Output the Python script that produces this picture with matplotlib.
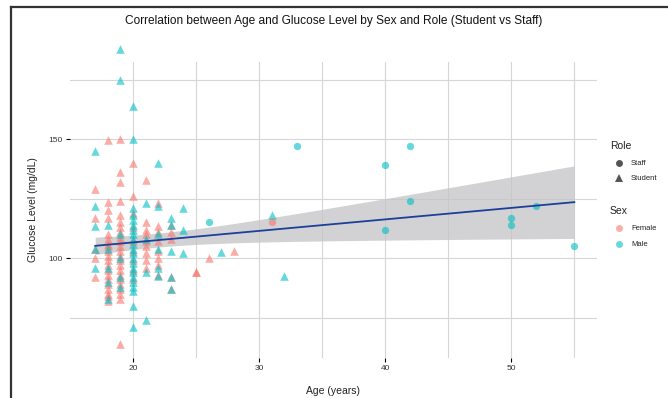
import numpy as np
import matplotlib.pyplot as plt
from matplotlib.lines import Line2D

plt.rcParams['font.family'] = ['Liberation Sans', 'DejaVu Sans']

# Student, female (age, glucose)
stu_f_age = [17]*5 + [18]*20 + [19]*23 + [20]*9 + [21]*9 + [22]*8 + [23]*5 + [25, 25, 26, 28]
stu_f_glu = [129, 117, 104, 100, 92,
             149.6, 123.5, 120, 117, 110, 108, 106, 105, 103, 101, 99, 97, 95, 93, 91, 89, 87, 85, 84, 82,
             150, 136, 132, 124, 118, 115, 113, 111, 109, 107, 105, 103, 101, 99, 97, 95, 93, 91, 89, 87, 85, 83, 64,
             140, 126, 119, 113, 107, 103, 99, 95, 91,
             133, 115, 112, 110, 107, 105, 102, 99, 96,
             123, 113.5, 111, 107, 103, 100, 97, 93,
             114, 111, 108, 92, 87,
             94, 94, 100, 103]

# Student, male
stu_m_age = [17]*5 + [18]*5 + [19]*6 + [20]*22 + [21]*4 + [22]*6 + [23]*5 + [24]*3 + [27, 31, 32]
stu_m_glu = [145, 122, 113.5, 104, 96,
             114, 104, 96, 90, 83,
             188, 175, 110, 100, 92, 88,
             164, 150, 121, 118, 116, 114, 112, 110, 108, 106, 104, 102, 100, 98, 96, 94, 92, 90, 88, 86, 80, 71,
             123, 108, 94, 74,
             140, 122, 110, 104, 96, 92.5,
             117, 114, 103, 92, 87,
             121, 112, 102,
             102.5, 118, 92.4]

# Staff
staff_m_age = [26, 33, 40, 40, 42, 42, 50, 50, 52, 55]
staff_m_glu = [115, 147, 139, 112, 147, 124, 117, 114, 122, 105]
staff_f_age = [31]
staff_f_glu = [115]

col_f = '#F8766D'
col_m = '#00BFC4'
alpha = 0.6

fig = plt.figure(figsize=(6.68, 3.98), dpi=100)
ax = fig.add_axes([70/668, 1-358/398, 527/668, 296/398])

# grid
for x in [20, 25, 30, 35, 40, 45, 50, 55]:
    ax.axvline(x, color='#d6d6d6', lw=0.8, zorder=0)
for y in [75, 100, 125, 150, 175]:
    ax.axhline(y, color='#d6d6d6', lw=0.8, zorder=0)

# regression with confidence band
all_age = np.array(stu_f_age + stu_m_age + staff_m_age + staff_f_age, dtype=float)
all_glu = np.array(stu_f_glu + stu_m_glu + staff_m_glu + staff_f_glu, dtype=float)
b, a = np.polyfit(all_age, all_glu, 1)
n = len(all_age)
resid = all_glu - (a + b*all_age)
s = np.sqrt(np.sum(resid**2) / (n-2))
xs = np.linspace(all_age.min(), all_age.max(), 100)
ys = a + b*xs
se = s * np.sqrt(1/n + (xs - all_age.mean())**2 / np.sum((all_age - all_age.mean())**2))
ax.fill_between(xs, ys - 1.97*se, ys + 1.97*se, color='#c4c4c6', alpha=0.75, lw=0, zorder=1)

ax.scatter(stu_f_age, stu_f_glu, marker='^', s=38, color=col_f, alpha=alpha, lw=0, zorder=2, clip_on=False)
ax.scatter(stu_m_age, stu_m_glu, marker='^', s=38, color=col_m, alpha=alpha, lw=0, zorder=2, clip_on=False)
ax.scatter(staff_f_age, staff_f_glu, marker='o', s=28, color=col_f, alpha=alpha, lw=0, zorder=2)
ax.scatter(staff_m_age, staff_m_glu, marker='o', s=28, color=col_m, alpha=alpha, lw=0, zorder=2)

ax.plot(xs, ys, color='#1c3f98', lw=1.3, zorder=3)

ax.set_xlim(15, 56.8)
ax.set_ylim(58, 182.4)
ax.set_xticks([20, 30, 40, 50])
ax.set_yticks([100, 150])
ax.tick_params(length=3, width=0.8, labelsize=6, pad=2, colors='black', labelcolor='#333333')
for sp in ax.spines.values():
    sp.set_visible(False)

ax.set_xlabel('Age (years)', fontsize=7.5, labelpad=10, color='#222222')
ax.set_ylabel('Glucose Level (mg/dL)', fontsize=7.5, labelpad=8, color='#222222')
fig.text(0.5, 1-21/398, 'Correlation between Age and Glucose Level by Sex and Role (Student vs Staff)',
         ha='center', va='center', fontsize=8.6, color='#111111')

# legends
def fx(px):
    return px/668
def fy(py):
    return 1 - py/398

fig.text(fx(610), fy(146), 'Role', fontsize=7.5, va='center', color='#222222')
fig.text(fx(610), fy(211), 'Sex', fontsize=7.5, va='center', color='#222222')
entries = [(163, 'o', '#555555', 1.0, 'Staff'), (178, '^', '#555555', 1.0, 'Student'),
           (228, 'o', col_f, alpha, 'Female'), (244, 'o', col_m, alpha, 'Male')]
for py, mk, c, al, lab in entries:
    fig.add_artist(Line2D([fx(619)], [fy(py)], marker=mk, color=c, alpha=al, markersize=5.5 if mk == '^' else 5,
                          markeredgewidth=0, transform=fig.transFigure))
    fig.text(fx(631), fy(py), lab, fontsize=5.5, va='center', color='#222222')

# outer frame
fig.add_artist(Line2D([fx(11), fx(11)], [0, fy(7)], color='#333333', lw=1.6, transform=fig.transFigure))
fig.add_artist(Line2D([fx(11), 1], [fy(7), fy(7)], color='#333333', lw=1.6, transform=fig.transFigure))

fig.savefig('out.png', dpi=100)
